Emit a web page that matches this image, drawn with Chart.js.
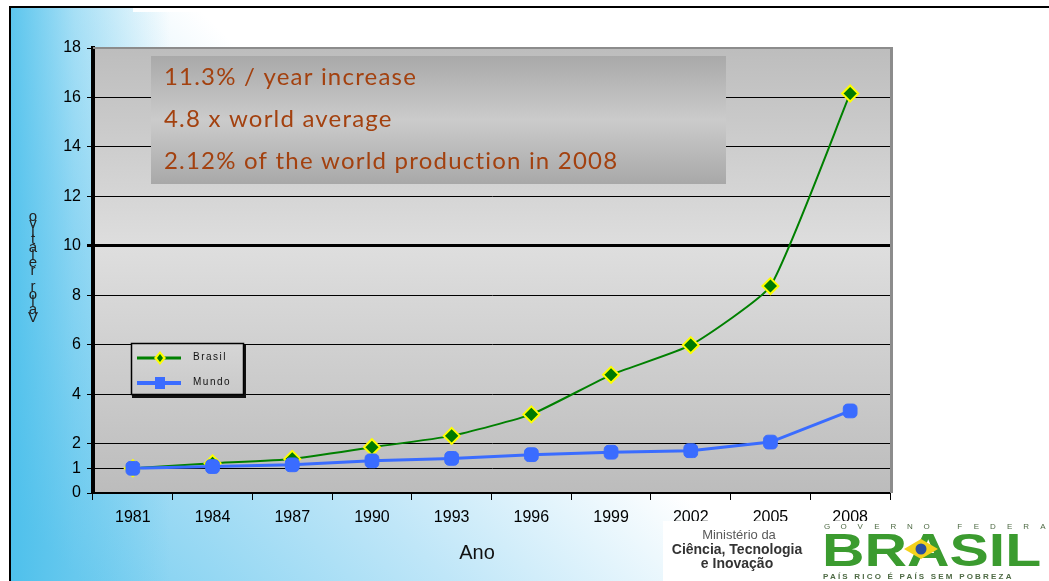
<!DOCTYPE html>
<html>
<head>
<meta charset="utf-8">
<title>Brasil x Mundo</title>
<script src="https://cdn.jsdelivr.net/npm/chart.js@4.4.1/dist/chart.umd.min.js"></script>
<style>
html, body { margin: 0; padding: 0; background: #fff; }
canvas { display: block; }
</style>
</head>
<body>
<canvas id="chart" width="1049" height="581"></canvas>
<script>
// valores relativos (1981 = 1)
var anos = ['1981', '1984', '1987', '1990', '1993', '1996', '1999', '2002', '2005', '2008'];
var brasil = [1, 1.2, 1.38, 1.85, 2.31, 3.18, 4.78, 5.98, 8.37, 16.16];
var mundo = [1, 1.07, 1.14, 1.3, 1.4, 1.55, 1.65, 1.71, 2.06, 3.32];
var yTicks = [0, 1, 2, 4, 6, 8, 10, 12, 14, 16, 18];
var destaques = ['11.3% / year increase', '4.8 x world average', '2.12% of the world production in 2008'];
var tituloY = 'Valor relativo';
var tituloX = 'Ano';

var fonte = '"Liberation Sans", Arial, sans-serif';

// fundo do slide e da area do grafico
var fundo = {
    id: 'fundo',
    beforeDraw: function(chart) {
        var ctx = chart.ctx, W = chart.width, H = chart.height, a = chart.chartArea;
        ctx.save();
        ctx.fillStyle = '#fff';
        ctx.fillRect(0, 0, W, H);

        var g = ctx.createLinearGradient(60, 560, 520, 100);
        g.addColorStop(0, '#7ccff0');
        g.addColorStop(0.4, '#bfe6f8');
        g.addColorStop(0.75, '#ffffff');
        ctx.fillStyle = g;
        ctx.fillRect(10, 7, W - 10, H - 7);

        var h = ctx.createLinearGradient(10, 0, 170, 0);
        h.addColorStop(0, 'rgba(70,190,235,0.85)');
        h.addColorStop(0.4, 'rgba(70,190,235,0.4)');
        h.addColorStop(1, 'rgba(70,190,235,0)');
        ctx.fillStyle = h;
        ctx.fillRect(10, 7, 160, H - 7);

        ctx.fillStyle = 'rgba(255,255,255,0.9)';
        ctx.fillRect(133, 8, 670, 4);

        ctx.strokeStyle = '#000';
        ctx.lineWidth = 2;
        ctx.beginPath();
        ctx.moveTo(10, H);
        ctx.lineTo(10, 7);
        ctx.lineTo(W, 7);
        ctx.stroke();

        var p = ctx.createLinearGradient(0, a.top, 0, a.bottom);
        p.addColorStop(0, '#bdbdbd');
        p.addColorStop(0.45, '#dedede');
        p.addColorStop(1, '#bcbcbc');
        ctx.fillStyle = p;
        ctx.fillRect(a.left, a.top, a.right - a.left, a.bottom - a.top);
        ctx.restore();
    }
};

// caixa de destaques e bordas da area
var caixa = {
    id: 'caixa',
    beforeDatasetsDraw: function(chart) {
        var ctx = chart.ctx, a = chart.chartArea;
        ctx.save();
        ctx.fillStyle = '#8c8c8c';
        ctx.fillRect(a.left, a.top - 1, a.right - a.left + 3, 2);
        ctx.fillRect(a.right, a.top - 1, 3, a.bottom - a.top + 1);

        var g = ctx.createLinearGradient(0, 56, 0, 184);
        g.addColorStop(0, '#a9a9a9');
        g.addColorStop(0.5, '#cbcbcb');
        g.addColorStop(1, '#a8a8a8');
        ctx.fillStyle = g;
        ctx.fillRect(151, 56, 575, 128);

        ctx.fillStyle = '#a3410f';
        ctx.font = '24px Lato, sans-serif';
        ctx.letterSpacing = '1.2px';
        ctx.textAlign = 'left';
        ctx.textBaseline = 'alphabetic';
        var ys = [85, 127, 169];
        destaques.forEach(function(t, i) { ctx.fillText(t, 164, ys[i]); });
        ctx.restore();
    }
};

function legenda(chart) {
    var ctx = chart.ctx;
    var ds = chart.data.datasets;
    ctx.save();
    ctx.fillStyle = '#111';
    ctx.fillRect(132, 345, 114, 53);
    var g = ctx.createLinearGradient(0, 343, 0, 395);
    g.addColorStop(0, '#d6d6d6');
    g.addColorStop(1, '#c9c9c9');
    ctx.fillStyle = g;
    ctx.fillRect(132, 344, 111, 50);
    ctx.strokeStyle = '#000';
    ctx.lineWidth = 1.5;
    ctx.strokeRect(131.5, 343.5, 112, 51);

    var rows = [358, 383];
    rows.forEach(function(y, i) {
        var d = ds[i];
        ctx.strokeStyle = d.borderColor;
        ctx.lineWidth = i === 0 ? 3 : 4;
        ctx.beginPath();
        ctx.moveTo(137, y);
        ctx.lineTo(181, y);
        ctx.stroke();
        ctx.fillStyle = d.pointBackgroundColor;
        if (i === 0) {
            ctx.beginPath();
            ctx.moveTo(160, y - 7);
            ctx.lineTo(166, y);
            ctx.lineTo(160, y + 7);
            ctx.lineTo(154, y);
            ctx.closePath();
            ctx.fillStyle = d.pointBorderColor;
            ctx.fill();
            ctx.beginPath();
            ctx.moveTo(160, y - 4);
            ctx.lineTo(163, y);
            ctx.lineTo(160, y + 4);
            ctx.lineTo(157, y);
            ctx.closePath();
            ctx.fillStyle = d.pointBackgroundColor;
            ctx.fill();
        } else {
            ctx.fillRect(155, y - 6, 10, 12);
        }
        ctx.fillStyle = '#111';
        ctx.font = '10px ' + fonte;
        ctx.letterSpacing = '1.5px';
        ctx.textBaseline = 'middle';
        ctx.fillText(d.label, 193, y - 1);
    });
    ctx.restore();
}

function logos(ctx) {
    ctx.save();
    ctx.fillStyle = '#fff';
    ctx.fillRect(663, 521, 152, 60);
    ctx.textAlign = 'center';
    ctx.textBaseline = 'middle';
    ctx.fillStyle = '#5a5a5a';
    ctx.font = '13px ' + fonte;
    ctx.fillText('Ministério da', 739, 535);
    ctx.fillStyle = '#333';
    ctx.font = 'bold 14px ' + fonte;
    ctx.fillText('Ciência, Tecnologia', 737, 550);
    ctx.fillText('e Inovação', 737, 564);

    ctx.fillStyle = '#fff';
    ctx.fillRect(818, 521, 231, 60);
    ctx.fillStyle = '#4f6b45';
    ctx.font = '8px ' + fonte;
    var gov = 'GOVERNO FEDERAL'.split('');
    gov.forEach(function(c, i) { ctx.fillText(c, 827 + i * 16.6, 527); });

    ctx.save();
    ctx.translate(822, 566);
    ctx.scale(1.28, 1);
    ctx.textAlign = 'left';
    ctx.textBaseline = 'alphabetic';
    ctx.font = 'bold 46px ' + fonte;
    ctx.fillStyle = '#3b9b2f';
    ctx.fillText('BRASIL', 0, 0);
    ctx.restore();

    // losango da bandeira no A
    ctx.fillStyle = '#f4d21c';
    ctx.beginPath();
    ctx.moveTo(904, 549);
    ctx.lineTo(921, 539);
    ctx.lineTo(938, 549);
    ctx.lineTo(921, 559);
    ctx.closePath();
    ctx.fill();
    ctx.fillStyle = '#2a4fa0';
    ctx.beginPath();
    ctx.arc(921, 549, 5.5, 0, Math.PI * 2);
    ctx.fill();

    ctx.fillStyle = '#4f6b45';
    ctx.textAlign = 'left';
    ctx.font = 'bold 8px ' + fonte;
    ctx.letterSpacing = '2.2px';
    ctx.fillText('PAÍS RICO É PAÍS SEM POBREZA', 823, 577);
    ctx.restore();
}

var extras = {
    id: 'extras',
    afterDatasetsDraw: function(chart) {
        legenda(chart);
    },
    afterDraw: function(chart) {
        var ctx = chart.ctx;
        ctx.save();
        ctx.fillStyle = '#222';
        ctx.font = '15px ' + fonte;
        ctx.textAlign = 'center';
        ctx.textBaseline = 'alphabetic';
        var letras = tituloY.split('');
        letras.forEach(function(c, i) { ctx.fillText(c, 33, 322 - i * 7.8); });

        ctx.fillStyle = '#111';
        ctx.font = '20px ' + fonte;
        ctx.textBaseline = 'middle';
        ctx.fillText(tituloX, 477, 553);
        ctx.restore();
        logos(ctx);
    }
};

var ctx = document.getElementById('chart').getContext('2d');
window.grafico = new Chart(ctx, {
    type: 'line',
    data: {
        labels: anos,
        datasets: [{
            label: 'Brasil',
            data: brasil,
            order: 2,
            borderColor: '#008000',
            borderWidth: 2,
            tension: 0.15,
            pointStyle: 'rectRot',
            pointRadius: 8,
            pointBackgroundColor: '#007a00',
            pointBorderColor: '#ffff00',
            pointBorderWidth: 2
        }, {
            label: 'Mundo',
            data: mundo,
            order: 1,
            borderColor: '#3a6cff',
            borderWidth: 3,
            tension: 0,
            pointStyle: 'rectRounded',
            pointRadius: 8,
            pointBackgroundColor: '#3a6cff',
            pointBorderColor: '#3a6cff',
            pointBorderWidth: 1
        }]
    },
    options: {
        responsive: false,
        animation: false,
        layout: { padding: { left: 0, right: 159, top: 48, bottom: 0 } },
        plugins: {
            legend: { display: false },
            tooltip: { enabled: false }
        },
        scales: {
            x: {
                offset: true,
                grid: { offset: true, drawOnChartArea: false, color: '#000', tickLength: 7, lineWidth: 1 },
                border: { color: '#000', width: 2 },
                ticks: { color: '#000', font: { family: fonte, size: 16 }, padding: 8, maxRotation: 0, autoSkip: false },
                afterFit: function(s) { s.height = 88; s.paddingLeft = 0; s.paddingRight = 0; }
            },
            y: {
                min: 0,
                max: 18,
                afterBuildTicks: function(s) { s.ticks = yTicks.map(function(v) { return { value: v }; }); },
                grid: {
                    color: function(c) { return c.tick && c.tick.value === 18 ? 'rgba(0,0,0,0)' : '#000'; },
                    lineWidth: function(c) { return c.tick && c.tick.value === 10 ? 3 : 1; },
                    tickColor: '#000',
                    tickLength: 6
                },
                border: { color: '#000', width: 4 },
                ticks: { color: '#000', font: { family: fonte, size: 16 }, padding: 6 },
                afterFit: function(s) { s.width = 93; s.paddingTop = 0; s.paddingBottom = 0; }
            }
        }
    },
    plugins: [fundo, caixa, extras]
});
</script>
</body>
</html>
